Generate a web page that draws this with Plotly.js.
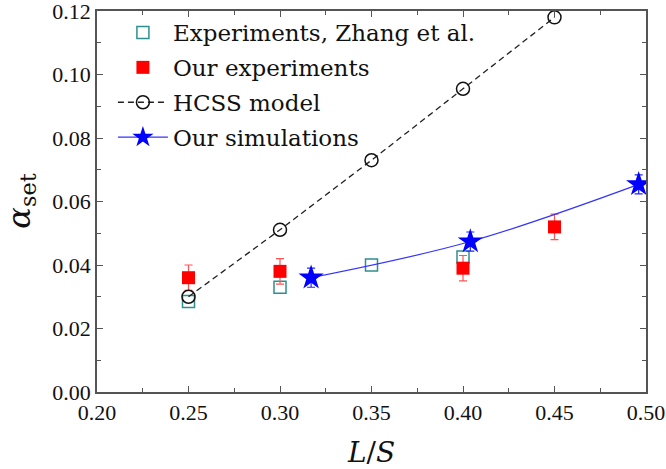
<!DOCTYPE html>
<html>
<head>
<meta charset="utf-8">
<script src="https://cdn.plot.ly/plotly-3.0.1.min.js"></script>
<style>
  html, body { margin: 0; padding: 0; background: #fff; }
  #chart { width: 666px; height: 469px; }
</style>
</head>
<body>
<div id="chart"></div>
<script>
// values
const zhangX = [0.25, 0.30, 0.35, 0.40]
const zhangY = [0.0285, 0.033, 0.040, 0.0425]

const oursX = [0.25, 0.30, 0.40, 0.45]
const oursY = [0.036, 0.038, 0.039, 0.052]
const oursErr = [0.004, 0.004, 0.004, 0.004]

const hcssX = [0.25, 0.30, 0.35, 0.40, 0.45]
const hcssY = [0.030, 0.0511, 0.073, 0.0955, 0.118]

const simX = [0.317, 0.404, 0.496]
const simY = [0.036, 0.0474, 0.0654]
const simErr = [0.003, 0.003, 0.003]

const xTicks = [0.20, 0.25, 0.30, 0.35, 0.40, 0.45, 0.50]
const yTicks = [0.00, 0.02, 0.04, 0.06, 0.08, 0.10, 0.12]

const serif = 'DejaVu Serif, Liberation Serif, serif'
const tickserif = 'Liberation Serif, DejaVu Serif, serif'

function axis_style(range, ticks, minor_dtick) {
    return {
        range: range,
        tickmode: 'array',
        tickvals: ticks,
        ticktext: ticks.map(v => v.toFixed(2)),
        ticklabeloverflow: 'allow',
        ticks: 'inside',
        ticklen: 6,
        tickwidth: 1.3,
        tickcolor: '#555',
        showline: true,
        linecolor: '#555',
        linewidth: 1.5,
        mirror: 'ticks',
        showgrid: false,
        zeroline: false,
        tickfont: {family: tickserif, size: 22, color: '#111'},
        minor: {
            tick0: range[0],
            dtick: minor_dtick,
            ticks: 'inside',
            ticklen: 4,
            tickwidth: 1.2,
            tickcolor: '#555',
            showgrid: false,
        },
    }
}

const traces = [
    {
        type: 'scatter', mode: 'markers',
        name: 'Experiments, Zhang et al.', legendgroup: 'a',
        x: zhangX, y: zhangY,
        marker: {symbol: 'square-open', size: 12, color: '#2f8f8f', line: {width: 1.5}},
    },
    {
        type: 'scatter', mode: 'markers',
        name: 'Our experiments', legendgroup: 'b',
        x: oursX, y: oursY,
        error_y: {type: 'data', array: oursErr, color: '#ff5555', thickness: 1.2, width: 4},
        marker: {symbol: 'square', size: 13, color: '#ff0000'},
    },
    {
        type: 'scatter', mode: 'lines+markers',
        name: 'HCSS model', legendgroup: 'c',
        x: hcssX, y: hcssY,
        line: {color: '#222', width: 1.3, dash: '6px,4px'},
        marker: {symbol: 'circle-open', size: 13, color: '#111', line: {width: 1.5}},
    },
    {
        type: 'scatter', mode: 'lines+markers',
        name: 'Our simulations', legendgroup: 'd',
        x: simX, y: simY,
        line: {color: '#3333ff', width: 1.2, shape: 'spline'},
        error_y: {type: 'data', array: simErr, color: '#2222ff', thickness: 1.2, width: 4},
        marker: {symbol: 'star', size: 19, color: '#0000ff'},
    },
]

const xaxis = axis_style([0.20, 0.50], xTicks, 0.025)
xaxis.title = {text: '<i>L</i>/<i>S</i>', font: {family: serif, size: 28, color: '#111'}, standoff: 20}

const yaxis = axis_style([0, 0.12], yTicks, 0.01)

Plotly.newPlot('chart', traces, {
    width: 666,
    height: 469,
    margin: {t: 11, r: 20, b: 77, l: 97},
    paper_bgcolor: '#fff',
    plot_bgcolor: '#fff',
    showlegend: true,
    legend: {
        x: 0.029, y: 1, xanchor: 'left', yanchor: 'top',
        bgcolor: 'rgba(0,0,0,0)',
        font: {family: serif, size: 23, color: '#111'},
        itemwidth: 50,
        tracegroupgap: 2,
    },
    annotations: [{
        text: '<i>α</i><sub>set</sub>',
        xref: 'paper', yref: 'paper',
        x: -0.14, y: 0.5,
        xanchor: 'center', yanchor: 'middle',
        textangle: -90,
        showarrow: false,
        font: {family: serif, size: 32, color: '#111'},
    }],
    xaxis: xaxis,
    yaxis: yaxis,
}, {displayModeBar: false})
</script>
</body>
</html>
